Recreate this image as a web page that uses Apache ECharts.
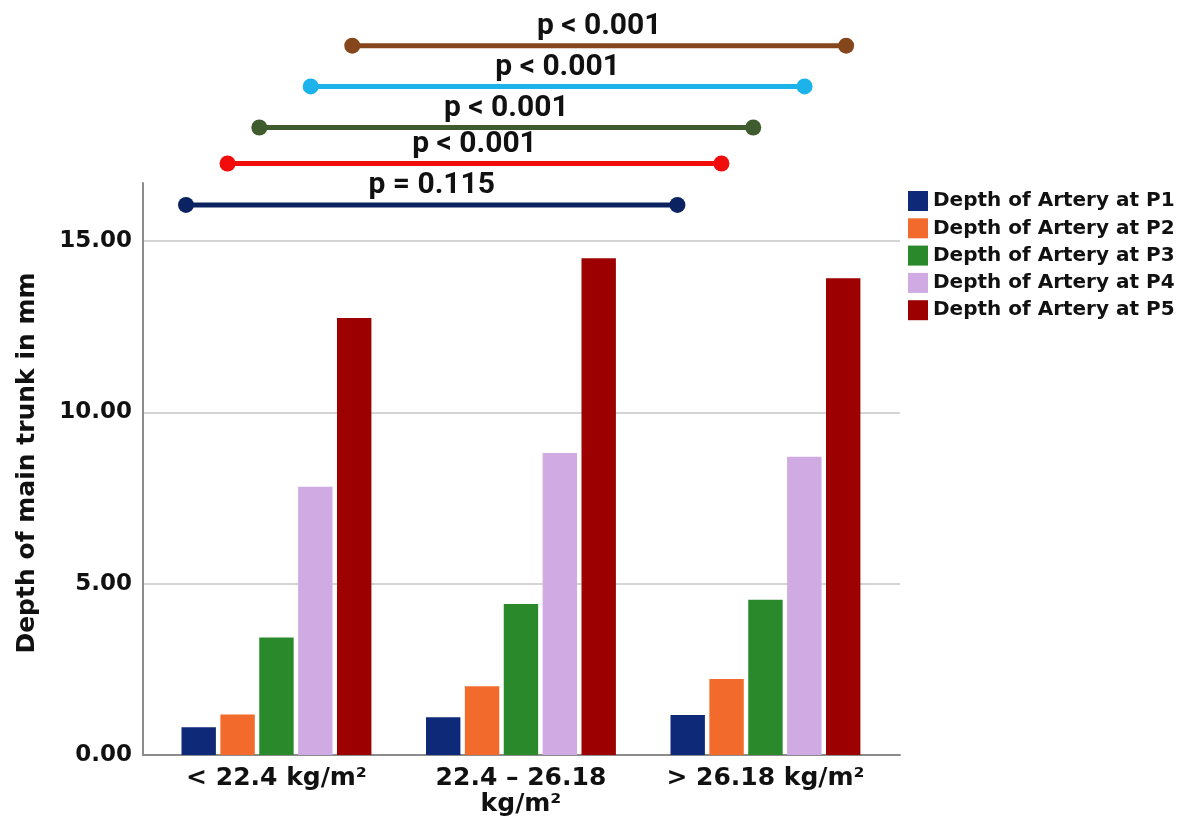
<!DOCTYPE html>
<html>
<head>
<meta charset="utf-8">
<title>Depth of main trunk by BMI group</title>
<script src="https://cdn.jsdelivr.net/npm/echarts@6/dist/echarts.min.js"></script>
<style>
  html, body { margin: 0; padding: 0; background: #fff; }
  #chart { width: 1186px; height: 825px; }
</style>
</head>
<body>
<div id="chart"></div>
<script>
// BMI groups
var categories = ['< 22.4 kg/m²', '22.4 – 26.18\nkg/m²', '> 26.18 kg/m²'];
var seriesNames = [
  'Depth of Artery at P1',
  'Depth of Artery at P2',
  'Depth of Artery at P3',
  'Depth of Artery at P4',
  'Depth of Artery at P5'
];
// mean depth (mm) per group
var p1 = [0.81, 1.10, 1.17];
var p2 = [1.18, 2.01, 2.22];
var p3 = [3.43, 4.41, 4.53];
var p4 = [7.83, 8.82, 8.71];
var p5 = [12.76, 14.50, 13.92];
var barColors = ['#0d2978', '#f26b2c', '#2a8a2b', '#cfaae3', '#9c0000'];

var yMin = 0;
var yMax = 16.7;
var yStep = 5;

// significance brackets, x in group units (0 = centre of first group)
var pTexts = ['p = 0.115', 'p < 0.001', 'p < 0.001', 'p < 0.001', 'p < 0.001'];
var pFrom = [-0.37, -0.20, -0.07, 0.14, 0.31];
var pTo = [1.64, 1.82, 1.95, 2.16, 2.33];
var pLevel = [16.06, 17.27, 18.32, 19.52, 20.71];
var pColors = ['#0b2461', '#f20d0d', '#3e5c2d', '#1cb2ea', '#86461b'];

var barValues = [p1, p2, p3, p4, p5];
var font = 'DejaVu Sans';
var textColor = '#111';

var chart = echarts.init(document.getElementById('chart'));

var barSeries = seriesNames.map(function (name, i) {
  return {
    name: name,
    type: 'bar',
    xAxisIndex: 1,
    yAxisIndex: 1,
    barWidth: 34.4,
    barGap: '13%',
    itemStyle: { color: barColors[i] },
    data: barValues[i]
  };
});

var bracketSeries = pTexts.map(function (txt, i) {
  var mid = (pFrom[i] + pTo[i]) / 2;
  return {
    type: 'line',
    xAxisIndex: 2,
    yAxisIndex: 1,
    clip: false,
    silent: true,
    z: 5,
    symbol: 'circle',
    symbolSize: 16,
    lineStyle: { width: 5, color: pColors[i] },
    itemStyle: { color: pColors[i] },
    data: [
      [pFrom[i], pLevel[i]],
      {
        value: [mid, pLevel[i]],
        symbolSize: 0,
        label: {
          show: true,
          position: 'top',
          distance: 4,
          formatter: txt,
          fontFamily: 'Roboto',
          fontWeight: 'bold',
          fontSize: 30,
          color: textColor
        }
      },
      [pTo[i], pLevel[i]]
    ]
  };
});

chart.setOption({
  animation: false,
  backgroundColor: '#fff',
  legend: {
    data: seriesNames,
    orient: 'vertical',
    left: 903,
    top: 186,
    icon: 'rect',
    itemWidth: 20,
    itemHeight: 20,
    itemGap: 7.3,
    itemStyle: { borderWidth: 0 },
    textStyle: { fontFamily: font, fontWeight: 'bold', fontSize: 20, color: textColor }
  },
  grid: [
    // frame: axis lines, gridlines, y labels
    { left: 143, top: 183, width: 757, height: 572 },
    // bars
    { left: 154.2, top: 183, width: 733.5, height: 572 }
  ],
  xAxis: [
    {
      gridIndex: 0,
      type: 'value',
      min: 0,
      max: 1,
      axisLine: { show: true, lineStyle: { color: '#8c8c8c', width: 2 } },
      axisTick: { show: false },
      axisLabel: { show: false },
      splitLine: { show: false }
    },
    {
      gridIndex: 1,
      type: 'category',
      data: categories,
      axisLine: { show: false },
      axisTick: { show: false },
      axisLabel: {
        interval: 0,
        margin: 10,
        fontFamily: font,
        fontWeight: 'bold',
        fontSize: 25,
        lineHeight: 26,
        color: textColor
      }
    },
    {
      gridIndex: 1,
      type: 'value',
      min: -0.5,
      max: categories.length - 0.5,
      show: false
    }
  ],
  yAxis: [
    {
      gridIndex: 0,
      type: 'value',
      min: yMin,
      max: yMax,
      interval: yStep,
      name: 'Depth of main trunk in mm',
      nameLocation: 'middle',
      nameGap: 103,
      nameTextStyle: {
        fontFamily: font,
        fontWeight: 'bold',
        fontSize: 25,
        color: textColor,
        padding: [0, 0, 0, 12]
      },
      axisLine: { show: true, lineStyle: { color: '#8c8c8c', width: 2 } },
      axisTick: { show: false },
      axisLabel: {
        showMaxLabel: false,
        margin: 11,
        fontFamily: font,
        fontWeight: 'bold',
        fontSize: 23,
        color: textColor,
        formatter: function (v) { return v.toFixed(2); }
      },
      splitLine: {
        show: true,
        showMinLine: false,
        showMaxLine: false,
        lineStyle: { color: '#d4d4d4', width: 2 }
      }
    },
    {
      gridIndex: 1,
      type: 'value',
      min: yMin,
      max: yMax,
      show: false,
      splitLine: { show: false }
    }
  ],
  series: barSeries.concat(bracketSeries)
});
</script>
</body>
</html>
